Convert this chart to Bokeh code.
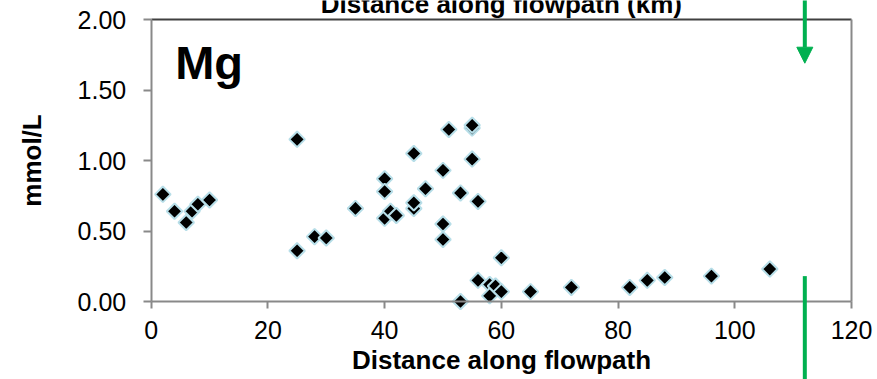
import math
from bokeh.plotting import figure
from bokeh.models import (Range1d, NumeralTickFormatter, Label, LinearAxis, FixedTicker,
                          ColumnDataSource, Arrow, NormalHead)
from bokeh.embed import file_html
from bokeh.resources import INLINE

# ---- data ----
distance_km = [2, 4, 6, 7, 8, 10, 25, 25, 28, 30, 35, 40, 40, 40, 41, 42, 45, 45, 45, 47,
               50, 50, 50, 51, 53, 53, 55, 55, 55, 56, 56, 58, 58, 59, 60, 60, 65, 72,
               82, 85, 88, 96, 106]
mg_mmol = [0.76, 0.64, 0.56, 0.64, 0.69, 0.72, 1.15, 0.36, 0.46, 0.45, 0.66, 0.87, 0.78,
           0.59, 0.64, 0.61, 1.05, 0.66, 0.70, 0.80, 0.93, 0.55, 0.44, 1.22, 0.77, 0.00,
           1.23, 1.25, 1.01, 0.71, 0.15, 0.12, 0.04, 0.11, 0.07, 0.31, 0.07, 0.10, 0.10,
           0.15, 0.17, 0.18, 0.23]
x_ticks = [0, 20, 40, 60, 80, 100, 120]
y_ticks = [0.0, 0.5, 1.0, 1.5, 2.0]
boundary_km = 112          # green marker position
arrow_tip = 1.69           # upper green arrow tip (mmol/L)
lower_line_top = 0.18      # lower green line top (mmol/L)

FONT = "Liberation Sans"
GREEN = "#00B050"
GRAY = "#898989"

# canvas and plotting-area geometry (pixels)
W, H = 877, 379
PL, PR, PT, PB = 150.7, 851.0, 19.0, 301.0
X_MIN, X_MAX, Y_MIN, Y_MAX = 0, 120, 0.0, 2.0
sx = (PR - PL) / (X_MAX - X_MIN)
sy = (PB - PT) / (Y_MAX - Y_MIN)

p = figure(width=W, height=H, output_backend="svg", toolbar_location=None,
           x_axis_location=None, y_axis_location=None,
           x_range=Range1d(X_MIN - PL / sx, X_MAX + (W - PR) / sx),
           y_range=Range1d(Y_MIN - (H - PB) / sy, Y_MAX + PT / sy),
           min_border=0, min_border_left=0, min_border_right=0,
           min_border_top=0, min_border_bottom=0)
p.background_fill_color = "white"
p.border_fill_color = "white"
p.outline_line_color = None
p.grid.visible = False


def style_axis(ax, line_color=GRAY):
    ax.axis_line_color = line_color
    ax.axis_line_width = 2
    ax.major_tick_line_color = GRAY
    ax.major_tick_line_width = 2
    ax.major_tick_in = 0
    ax.minor_tick_line_color = None
    ax.major_label_text_font = FONT
    ax.major_label_text_font_size = "25px"
    ax.major_label_text_color = "black"
    ax.axis_label_text_font = FONT
    ax.axis_label_text_font_size = "26px"
    ax.axis_label_text_font_style = "bold"
    ax.axis_label_text_color = "black"
    return ax


xaxis = style_axis(LinearAxis(fixed_location=Y_MIN, bounds=(X_MIN, X_MAX),
                              ticker=FixedTicker(ticks=x_ticks)))
xaxis.major_tick_out = 7
xaxis.major_label_standoff = 12
xaxis.axis_label = "Distance along flowpath"
xaxis.axis_label_standoff = 3
p.add_layout(xaxis, "below")

yaxis = style_axis(LinearAxis(fixed_location=X_MIN, bounds=(Y_MIN, Y_MAX),
                              ticker=FixedTicker(ticks=y_ticks),
                              formatter=NumeralTickFormatter(format="0.00")))
yaxis.major_tick_out = 8
yaxis.major_label_standoff = 17
yaxis.axis_label = "mmol/L"
yaxis.axis_label_standoff = 28
p.add_layout(yaxis, "left")

# plot-area border: dark top, gray right
top = style_axis(LinearAxis(fixed_location=Y_MAX, bounds=(X_MIN, X_MAX),
                            ticker=FixedTicker(ticks=[])), line_color="#404040")
top.major_tick_out = 0
top.major_label_text_font_size = "1px"
p.add_layout(top, "above")
right = style_axis(LinearAxis(fixed_location=X_MAX, bounds=(Y_MIN, Y_MAX),
                              ticker=FixedTicker(ticks=[])))
right.major_tick_out = 0
right.major_label_text_font_size = "1px"
p.add_layout(right, "right")

src = ColumnDataSource(dict(x=distance_km, y=mg_mmol))
p.scatter("x", "y", source=src, marker="square", angle=math.pi / 4, size=11,
          fill_color="black", line_color="#B7DEE8", line_width=2)

# element label
p.add_layout(Label(x=X_MIN + 24 / sx, y=Y_MAX - 43 / sy, text="Mg",
                   text_font=FONT, text_font_size="47px", text_font_style="bold",
                   text_color="black", text_baseline="alphabetic"))

# cut-off upper title
p.add_layout(Label(x=(X_MIN + X_MAX) / 2, y=Y_MAX + 16 / sy,
                   text="Distance along flowpath (km)",
                   text_font=FONT, text_font_size="26px", text_font_style="bold",
                   text_color="black", text_align="center", text_baseline="alphabetic"))

# green markers
p.add_layout(Arrow(end=NormalHead(size=16, fill_color=GREEN, line_color=GREEN, line_width=1),
                   x_start=boundary_km, y_start=Y_MAX + 30 / sy,
                   x_end=boundary_km, y_end=arrow_tip,
                   line_color=GREEN, line_width=4))
p.add_layout(Arrow(end=None, x_start=boundary_km, y_start=lower_line_top,
                   x_end=boundary_km, y_end=Y_MIN - 100 / sy,
                   line_color=GREEN, line_width=4))

open("out.html", "w").write(file_html(p, INLINE))
